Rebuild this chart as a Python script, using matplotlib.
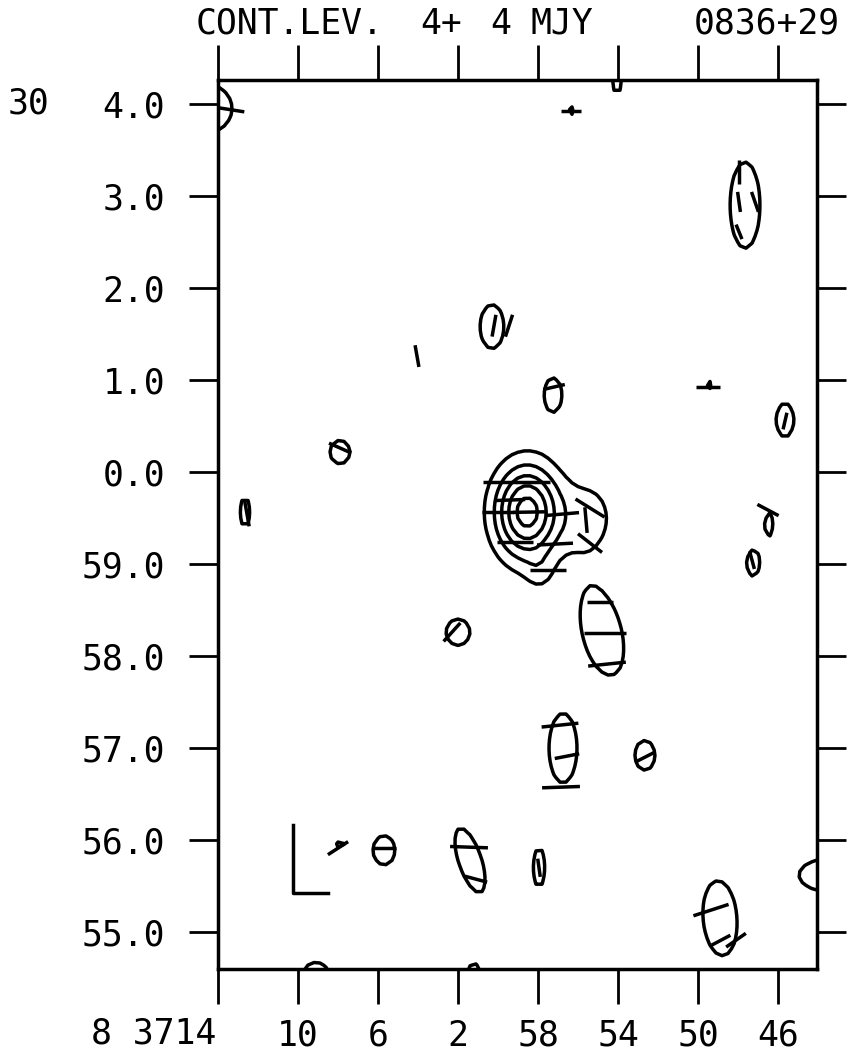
import numpy as np
import matplotlib
matplotlib.use('Agg')
import matplotlib.pyplot as plt
from matplotlib import transforms

plt.rcParams['font.family'] = ['DejaVu Sans Mono']

# sources: RA offset in s from 8h37m00s, Dec offset in arcmin from 30d00m,
# peak (mJy), gaussian widths (s, arcmin) and a shear (s per arcmin)
src_ra    = [14.65, -3.6, -5.95, -12.35, 0.3, -2.75, -10.5, -14.35, 7.9, 12.65,
             -1.45, -4.6, -2.1, -5.2, 2.0, -3.25, -7.35, 7.9, 5.7, 1.4,
             -2.05, -16.6, -11.1, 9.1, 1.2, -13.55, -12.75]
src_dec   = [3.95, 3.93, 4.37, 2.90, 1.58, 0.84, 0.945, 0.565, 0.217, -0.435,
             -0.435, -0.50, -1.1, -1.74, -1.74, -3.0, -3.08, -4.05, -4.11, -4.22,
             -4.30, -4.38, -4.85, -5.5, -5.48, -0.56, -0.99]
src_peak  = [6, 4.6, 5, 6, 5.5, 5.5, 4.6, 5.5, 5.5, 5,
             22, 5.5, 3.0, 7.5, 5.5, 6, 5.5, 4.5, 5.5, 6,
             5, 6, 6, 5, 5, 5.2, 5.3]
src_sx    = [1.5, 0.28, 0.37, 0.83, 0.75, 0.56, 0.28, 0.56, 0.63, 0.37,
             1.15, 1.0, 0.5, 0.89, 0.75, 0.78, 0.63, 0.41, 0.69, 0.67,
             0.45, 1.72, 0.94, 1.05, 0.52, 0.3, 0.44]
src_sy    = [0.30, 0.12, 0.42, 0.52, 0.30, 0.23, 0.12, 0.23, 0.16, 0.24,
             0.36, 0.32, 0.15, 0.417, 0.18, 0.42, 0.20, 0.09, 0.20, 0.39,
             0.31, 0.20, 0.45, 0.26, 0.21, 0.17, 0.19]
src_shear = [0, 0, 0, 0, 0, 0, 0, 0, 0, 0,
             0, 0, 0, 0.9, 0, 0, 0, 0, 0, 1.33,
             0, 0, 0.3, 0, 0, 0, 0]

cont_levels = [4, 8, 12, 16, 20]

# polarization vectors: centre, length (arcmin), position angle (deg)
vec_ra  = [13.3, -3.65, -12.05, -12.05, -12.85, -12.05, 0.2, -0.55, 4.05, -2.8,
           -10.5, -14.35, 7.9, 12.55, 2.3, -0.1, -1.75, -0.6, 0.0, -1.6,
           -3.2, -0.85, -2.85, -2.5, -4.4, -4.6, -4.6, -5.1, -5.35, -5.45,
           -3.1, -3.45, -3.15, -7.35, 8.0, 5.7, 1.45, 1.1, -2.05, -10.65,
           -11.15, -11.9, -13.5, -12.7]
vec_dec = [3.935, 3.924, 3.26, 2.935, 2.935, 2.61, 1.59, 1.59, 1.26, 0.924,
           0.924, 0.554, 0.261, -0.457, -1.74, -0.109, -0.109, -0.304, -0.435, -0.435,
           -0.457, -0.761, -0.783, -1.065, -0.522, -0.391, -0.772, -1.413, -1.75, -2.087,
           -2.75, -3.087, -3.424, -3.098, -4.087, -4.087, -4.076, -4.424, -4.30, -4.76,
           -5.087, -5.087, -0.413, -0.957]
vec_len = [0.27, 0.22, 0.26, 0.22, 0.23, 0.17, 0.24, 0.25, 0.24, 0.24,
           0.25, 0.185, 0.26, 0.27, 0.27, 0.37, 0.37, 0.33, 0.35, 0.37,
           0.37, 0.39, 0.39, 0.38, 0.28, 0.37, 0.33, 0.28, 0.45, 0.41,
           0.40, 0.27, 0.41, 0.24, 0.26, 0.27, 0.41, 0.25, 0.2, 0.40,
           0.23, 0.26, 0.26, 0.2]
vec_pa  = [81, 90, 0, 8, 19, 22, 170, 162, 10, 103,
           90, 167, 66, 10, 138, 90, 90, 92, 90, 91,
           95, 90, 93, 90, 5, 58, 52, 90, 90, 96,
           96, 101, 92, 117, 123, 90, 88, 75, 8, 108,
           118, 125, 62, 15]

# beam / scale marker
bar_ra, bar_dec = 10.25, -4.576
bar_w, bar_h = 1.75, 0.74

x_ticks  = [14, 10, 6, 2, -2, -6, -10, -14]
x_labels = ['', '10', '6', '2', '58', '54', '50', '46']
y_ticks  = [4, 3, 2, 1, 0, -1, -2, -3, -4, -5]
y_labels = ['4.0', '3.0', '2.0', '1.0', '0.0', '59.0', '58.0', '57.0', '56.0', '55.0']

# flux map on a regular grid
ra_grid = np.arange(-19.0, 17.0, 0.3)
dec_grid = np.arange(-6.5, 5.5, 0.06)
RA, DEC = np.meshgrid(ra_grid, dec_grid)
flux = np.zeros_like(RA)
for ra, dec, pk, sx, sy, sh in zip(src_ra, src_dec, src_peak, src_sx, src_sy, src_shear):
    u = (RA - ra - sh * (DEC - dec)) / sx
    v = (DEC - dec) / sy
    flux += pk * np.exp(-0.5 * (u * u + v * v))

W, H = 864, 1055
fs = 25
lw = 2.5
fig = plt.figure(figsize=(W / 100, H / 100), dpi=100)
ax = fig.add_axes([218 / W, 1 - 969 / H, 599 / W, 889 / H])

ax.contour(RA, DEC, flux, levels=cont_levels, colors='k', linewidths=lw)

cosd = np.cos(np.radians(30.0))
for ra, dec, ln, pa in zip(vec_ra, vec_dec, vec_len, vec_pa):
    dra = 0.5 * ln * np.sin(np.radians(pa)) / (0.25 * cosd)
    ddec = 0.5 * ln * np.cos(np.radians(pa))
    ax.plot([ra - dra, ra + dra], [dec - ddec, dec + ddec], color='k', lw=lw,
            solid_capstyle='butt')

ax.plot([bar_ra, bar_ra, bar_ra - bar_w], [bar_dec + bar_h, bar_dec, bar_dec],
        color='k', lw=lw)

ax.set_xlim(14, -15.95)
ax.set_ylim(-5.40, 4.26)

ax.set_xticks(x_ticks)
ax.set_xticklabels(x_labels)
ax.set_yticks(y_ticks)
ax.set_yticklabels(y_labels)
for s in ax.spines.values():
    s.set_linewidth(2.5)
ax.tick_params(axis='x', direction='out', length=25, width=2, top=True, bottom=True,
               labelsize=fs, pad=11)
ax.tick_params(axis='y', direction='out', length=21, width=2, left=True, right=True,
               labelsize=fs, pad=17)

# hour / degree parts of the first labels
ytr = transforms.blended_transform_factory(fig.transFigure, ax.transData)
fig.text(8 / W, 4.0, '30', transform=ytr, fontsize=fs, va='center')
fig.text(216 / W, 1 - 1017 / H, '8 3714', fontsize=fs, ha='right', va='top')

ty = 1 - 24 / H
fig.text(196 / W, ty, 'CONT.LEV.', fontsize=fs, va='center')
fig.text(420 / W, ty, '4+', fontsize=fs, va='center')
fig.text(490 / W, ty, '4', fontsize=fs, va='center')
fig.text(530 / W, ty, 'MJY', fontsize=fs, va='center')
fig.text(694 / W, ty, '0836+29', fontsize=fs, va='center')

fig.savefig('out.png', dpi=100)
